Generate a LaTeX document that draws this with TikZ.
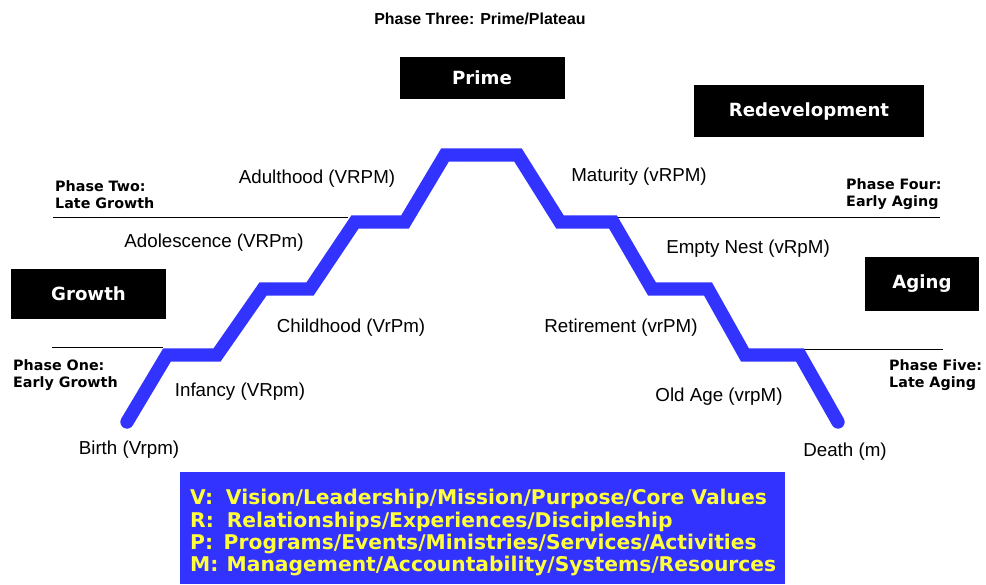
\documentclass[tikz,border=0pt]{standalone}
\usepackage{fontspec}
\setmainfont{Liberation Sans}
\newfontfamily\verdana{DejaVu Sans}

\definecolor{lifeblue}{RGB}{51,51,255}
\definecolor{keyyellow}{RGB}{255,255,60}

\tikzset{
	stage/.style={font=\fontsize{16}{18}\selectfont, inner sep=0pt},
	phase/.style={font=\verdana\bfseries\fontsize{12.2}{14.5}\selectfont, align=left, anchor=west, inner sep=0pt},
	era/.style={fill=black, text=white, font=\verdana\bfseries\fontsize{15.5}{18}\selectfont},
	keyline/.style={text=keyyellow, font=\verdana\bfseries\fontsize{17.3}{18}\selectfont, anchor=base west, inner sep=0pt}
}

\begin{document}
\begin{tikzpicture}[x=0.03cm, y=-0.03cm]

	\useasboundingbox[fill=white] (0,0) rectangle (986,584);

	% phase dividers
	\draw[line width=0.8pt] (53,217) -- (348,217);
	\draw[line width=0.8pt] (52,347) -- (163,347);
	\draw[line width=0.8pt] (617,217) -- (940,217);
	\draw[line width=0.8pt] (803,349) -- (943,349);

	% life cycle
	\draw[lifeblue, line width=0.4cm, line cap=round] (127,422) -- (167,355) -- (217,355) -- (263,289) -- (310,289) -- (355,222) -- (405,222) -- (445,155)
		-- (518,155) -- (560,222) -- (613,222) -- (652,289) -- (708,289) -- (745,355) -- (800,355) -- (838,422);

	\node[font=\bfseries\fontsize{13.6}{15}\selectfont] (phase3) at (480,19) {Phase Three: Prime/Plateau};

	\node[era, minimum width=4.95cm, minimum height=1.26cm] (prime) at (482,78) {Prime};
	\node[era, minimum width=6.9cm, minimum height=1.56cm] (redev) at (809,111) {Redevelopment};
	\node[era, minimum width=4.65cm, minimum height=1.5cm] (growth) at (88.5,294) {Growth};
	\node[era, minimum width=3.42cm, minimum height=1.62cm] (aging) at (922,284) {Aging};

	\node[phase] (phase2) at (55,194.5) {Phase Two:\\Late Growth};
	\node[phase] (phase1) at (13,375) {Phase One:\\Early Growth};
	\node[phase] (phase4) at (846,194.5) {Phase Four:\\Early Aging};
	\node[phase] (phase5) at (889,375) {Phase Five:\\Late Aging};

	\node[stage] (adult) at (317,179) {Adulthood (VRPM)};
	\node[stage] (adol) at (214,243) {Adolescence (VRPm)};
	\node[stage] (child) at (351,328) {Childhood (VrPm)};
	\node[stage] (infant) at (240,392) {Infancy (VRpm)};
	\node[stage] (birth) at (129,450) {Birth (Vrpm)};
	\node[stage] (mature) at (639,177) {Maturity (vRPM)};
	\node[stage] (nest) at (748,249) {Empty Nest (vRpM)};
	\node[stage] (retire) at (621,328) {Retirement (vrPM)};
	\node[stage] (old) at (719,397) {Old Age (vrpM)};
	\node[stage] (death) at (845,452) {Death (m)};

	% key
	\fill[lifeblue] (180,472) rectangle (785,584);
	\node[keyline] (kv) at (190,504) {V:\hspace{11pt}Vision/Leadership/Mission/Purpose/Core Values};
	\node[keyline] (kr) at (190,527) {R:\hspace{11pt}Relationships/Experiences/Discipleship};
	\node[keyline] (kp) at (190,549) {P:\hspace{9pt}Programs/Events/Ministries/Services/Activities};
	\node[keyline] (km) at (190,571) {M:\hspace{7pt}Management/Accountability/Systems/Resources};

\end{tikzpicture}
\end{document}
